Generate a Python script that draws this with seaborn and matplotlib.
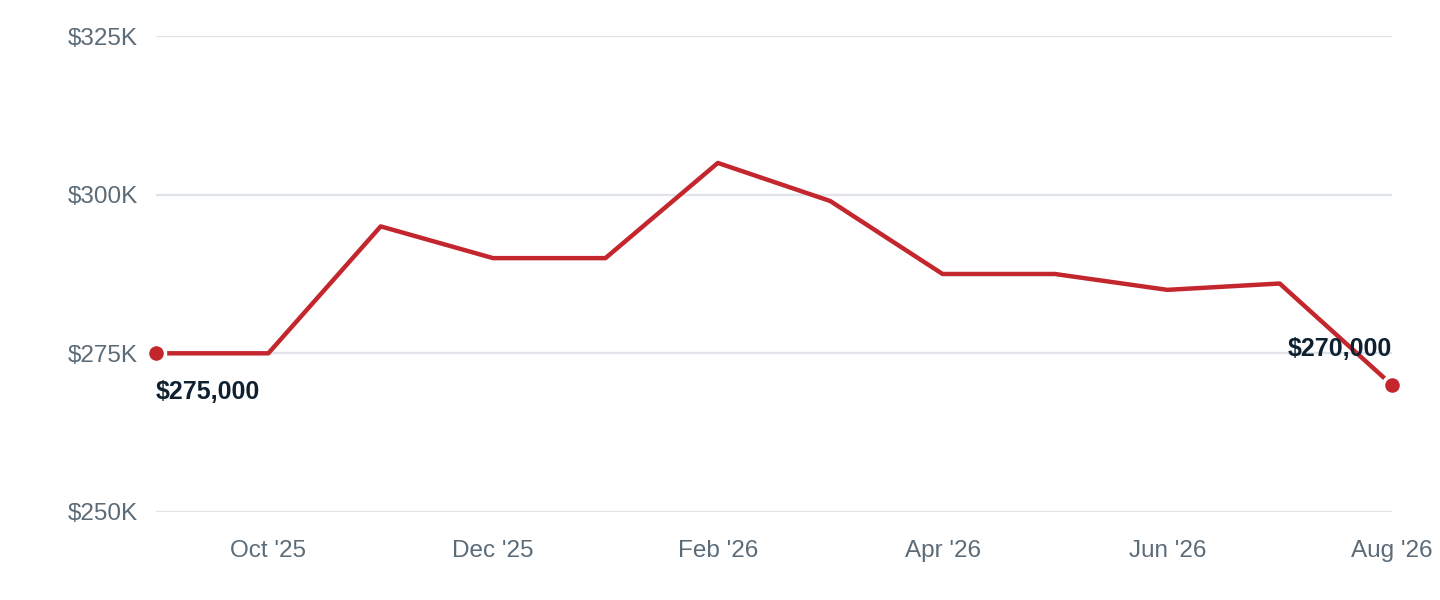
import matplotlib
matplotlib.use('Agg')
import matplotlib.pyplot as plt
import seaborn as sns
import pandas as pd

RED = '#C4262E'
GRID = '#E1E5EA'
TICK = '#5B6B78'
LABEL = '#0F2130'

# monthly values, Sep '25 -> Aug '26
months = ["Sep '25", "Oct '25", "Nov '25", "Dec '25", "Jan '26", "Feb '26",
          "Mar '26", "Apr '26", "May '26", "Jun '26", "Jul '26", "Aug '26"]
prices = [275000, 275000, 295000, 290000, 290000, 305000,
          299000, 287500, 287500, 285000, 286000, 270000]
y_ticks = [250000, 275000, 300000, 325000]
y_tick_labels = ['$250K', '$275K', '$300K', '$325K']
x_tick_months = ["Oct '25", "Dec '25", "Feb '26", "Apr '26", "Jun '26", "Aug '26"]

df = pd.DataFrame({'pos': range(len(months)), 'month': months, 'price': prices})

sns.set_theme(style='white')
plt.rcParams['font.family'] = ['Liberation Sans', 'DejaVu Sans']

fig = plt.figure(figsize=(14.4, 6), dpi=100, facecolor='white')
ax = fig.add_axes([0.1083, 0.1467, 0.8584, 0.7933])

for yv in y_ticks:
    ax.axhline(yv, color=GRID, lw=1.7, zorder=0)

sns.lineplot(data=df, x='pos', y='price', ax=ax, color=RED, lw=3.2,
             zorder=2, clip_on=False)

ends = df.iloc[[0, -1]]
ax.plot(ends['pos'], ends['price'], 'o', ms=13, color=RED, mec='white',
        mew=2.5, zorder=3, clip_on=False)

first, last = df.iloc[0], df.iloc[-1]
ax.annotate(f"${first['price']:,.0f}", (first['pos'], first['price']),
            xytext=(0, -28), textcoords='offset points', ha='left', va='center',
            fontsize=18, fontweight='bold', color=LABEL)
ax.annotate(f"${last['price']:,.0f}", (last['pos'], last['price']),
            xytext=(0, 26), textcoords='offset points', ha='right', va='center',
            fontsize=18, fontweight='bold', color=LABEL)

ax.set_xlim(0, len(months) - 1)
ax.set_ylim(y_ticks[0], y_ticks[-1])
ax.set_yticks(y_ticks)
ax.set_yticklabels(y_tick_labels)
ax.set_xticks([months.index(m) for m in x_tick_months])
ax.set_xticklabels(x_tick_months)
ax.tick_params(axis='both', length=0, labelsize=17.5, labelcolor=TICK)
ax.tick_params(axis='y', pad=13)
ax.tick_params(axis='x', pad=20)
ax.set_xlabel('')
ax.set_ylabel('')
sns.despine(ax=ax, left=True, bottom=True)

fig.savefig('out.png', dpi=100, facecolor='white')
